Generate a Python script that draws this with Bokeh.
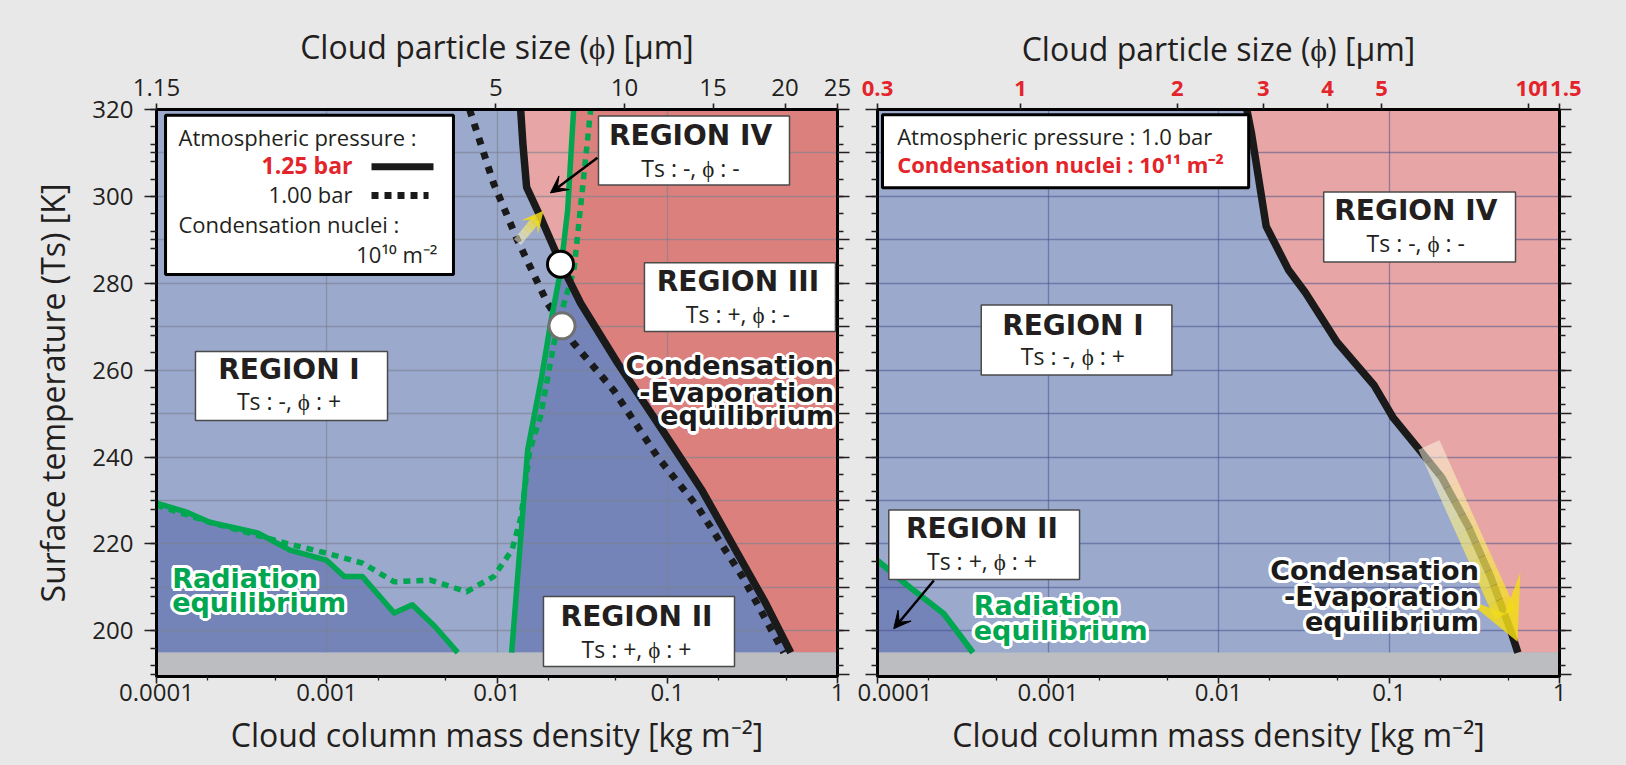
import numpy as np
from bokeh.plotting import figure
from bokeh.layouts import row
from bokeh.models import FixedTicker, LinearAxis, LogAxis, Label, Arrow, VeeHead, Range1d
from bokeh.embed import file_html
from bokeh.resources import INLINE

# ---------------- ticks / labels ----------------
X_TICKS = [1e-4, 1e-3, 1e-2, 1e-1, 1.0]
X_TICK_LABELS = ["0.0001", "0.001", "0.01", "0.1", "1"]
X_MINOR_TICKS = [2e-4, 5e-4, 2e-3, 5e-3, 2e-2, 5e-2, 0.2, 0.5]
X_GRID = [1e-3, 1e-2, 1e-1]
Y_LABEL_TICKS = [200, 220, 240, 260, 280, 300, 320]
Y_TICK_LABELS = ["200", "220", "240", "260", "280", "300", "320"]
Y_TICKS = [190, 200, 210, 220, 230, 240, 250, 260, 270, 280, 290, 300, 310, 320]
Y_MINOR_TICKS = list(range(192, 320, 4))

# particle-size axes (positions expressed on the mass axis)
TOP_L_POS = [1e-4, 0.00986, 0.0561, 0.1858, 0.492, 1.0]
TOP_L_LABELS = ["1.15", "5", "10", "15", "20", "25"]
TOP_R_POS = [1e-4, 6.9e-4, 0.00574, 0.01832, 0.0436, 0.0904, 0.655, 1.0]
TOP_R_LABELS = ["0.3", "1", "2", "3", "4", "5", "10", "11.5"]

X_LABEL = "Cloud column mass density [kg m\u207b\u00b2]"
TOP_LABEL = "Cloud particle size (\u03d5) [\u03bcm]"
Y_LABEL = "Surface temperature (Ts) [K]"

# ---------------- left panel data (nuclei 1e10 m^-2) ----------------
CE125_MASS = [0.01377, 0.0142, 0.01493, 0.01803, 0.02366, 0.0310, 0.0512, 0.0879, 0.1603, 0.378, 0.531]
CE125_TEMP = [320.0, 312.0, 302.1, 295.2, 284.6, 275.4, 261.6, 247.8, 232.3, 206.4, 195.0]
CE100_MASS = [0.0069, 0.00955, 0.0132, 0.0198, 0.0282, 0.0484, 0.0879, 0.151, 0.277, 0.483]
CE100_TEMP = [320.0, 303.0, 289.9, 275.4, 266.2, 255.4, 240.0, 228.5, 212.4, 195.0]
RAD125_UP_MASS = [0.01219, 0.01514, 0.01828, 0.02065, 0.02366, 0.0260, 0.0282]
RAD125_UP_TEMP = [195.0, 241.6, 258.4, 270.8, 283.0, 296.8, 320.0]
RAD125_LOW_MASS = [1e-4, 1.486e-4, 2.02e-4, 3.96e-4, 6.08e-4, 9.93e-4, 1.267e-3, 1.62e-3, 2.49e-3, 3.18e-3, 4.32e-3, 5.88e-3]
RAD125_LOW_TEMP = [229.4, 227.4, 225.1, 222.5, 218.6, 216.3, 212.5, 212.5, 204.1, 206.0, 201.0, 195.0]
RAD100_MASS = [1e-4, 1.4e-4, 2.02e-4, 5.73e-4, 9.93e-4, 1.62e-3, 2.49e-3, 4.07e-3, 6.62e-3, 9.55e-3,
               0.01225, 0.01384, 0.0156, 0.0180, 0.0216, 0.0247, 0.0283, 0.0317, 0.0355]
RAD100_TEMP = [228.9, 227.1, 225.1, 220.2, 217.9, 215.6, 211.3, 211.7, 209.0, 212.5,
               218.6, 226.3, 241.6, 249.3, 266.1, 275.3, 283.0, 301.4, 320.0]
CIRCLE_MASS = [0.0236, 0.0241]
CIRCLE_TEMP = [284.4, 270.2]

# ---------------- right panel data (1.0 bar, nuclei 1e11 m^-2) ----------------
CER_MASS = [0.01466, 0.01563, 0.01905, 0.02564, 0.0323, 0.0495, 0.0815, 0.106, 0.1476, 0.204, 0.294, 0.395, 0.516, 0.570]
CER_TEMP = [320.0, 314.4, 293.1, 283.2, 277.9, 266.5, 256.6, 249.0, 242.1, 235.3, 223.8, 212.4, 200.2, 195.0]
RADR_MASS = [1e-4, 1.54e-4, 2.44e-4, 2.98e-4, 3.63e-4]
RADR_TEMP = [216.2, 210.1, 204.0, 199.5, 195.0]

# ---------------- colours ----------------
BG = "#E8E8E8"
LIGHT_BLUE = "#9BA9CD"
DARK_BLUE = "#7484B8"
PINK = "#E7A6A5"
RED = "#DC807E"
GRAY = "#BCBDC1"
GREEN = "#00A650"
INK = "#231F20"
RED_TXT = "#E3242B"
T_MIN, T_MAX, T_FLOOR = 189.5, 320.0, 195.0


def _logx_at(xs, ts, t):
    ts = np.asarray(ts, float)
    lx = np.log10(np.asarray(xs, float))
    o = np.argsort(ts)
    return np.interp(t, ts[o], lx[o])


def curve_part(xs, ts, t_lo, t_hi):
    xs = np.asarray(xs, float)
    ts = np.asarray(ts, float)
    o = np.argsort(ts)
    xs, ts = xs[o], ts[o]
    m = (ts > t_lo) & (ts < t_hi)
    px = [10 ** _logx_at(xs, ts, t_lo)] + list(xs[m]) + [10 ** _logx_at(xs, ts, t_hi)]
    pt = [t_lo] + list(ts[m]) + [t_hi]
    return px, pt


def style_axis(ax, tick_out, minor_out, size=24, color=INK, bold=False, standoff=0):
    ax.axis_line_color = "black"
    ax.axis_line_width = 3
    ax.major_tick_line_color = INK
    ax.major_tick_line_width = 1.6
    ax.minor_tick_line_color = INK
    ax.minor_tick_line_width = 1.3
    ax.major_tick_out = tick_out
    ax.major_tick_in = 0
    ax.minor_tick_out = minor_out
    ax.minor_tick_in = 0
    ax.major_label_text_font = "Open Sans"
    ax.major_label_text_font_size = f"{size}px"
    ax.major_label_text_color = color
    ax.major_label_text_font_style = "bold" if bold else "normal"
    ax.major_label_standoff = standoff
    ax.axis_label_text_font = "Open Sans"
    ax.axis_label_text_font_size = "32px"
    ax.axis_label_text_font_style = "normal"
    ax.axis_label_text_color = INK


def hide_labels(ax):
    ax.major_label_overrides = {t: "" for t in Y_TICKS}
    ax.major_label_text_color = None
    ax.major_label_text_font_size = "0px"
    ax.major_label_standoff = 0


def make_panel(width, b_left, b_right, top_pos, top_labels, top_red, grid_color, grid_alpha, y_labels):
    p = figure(width=width, height=765, x_axis_type="log",
               x_range=Range1d(1e-4, 1.0), y_range=Range1d(T_MIN, T_MAX),
               output_backend="svg", toolbar_location=None, tools="",
               min_border_left=b_left, min_border_right=b_right,
               min_border_top=109, min_border_bottom=89)
    p.background_fill_color = LIGHT_BLUE
    p.border_fill_color = BG
    p.outline_line_color = "black"
    p.outline_line_width = 3

    xa = p.xaxis[0]
    xa.ticker = FixedTicker(ticks=X_TICKS, minor_ticks=X_MINOR_TICKS)
    xa.major_label_overrides = dict(zip(X_TICKS, X_TICK_LABELS))
    style_axis(xa, 7, 4, standoff=0)
    xa.axis_label = X_LABEL
    xa.axis_label_standoff = 9

    ya = p.yaxis[0]
    if y_labels:
        ya.ticker = FixedTicker(ticks=Y_LABEL_TICKS,
                                minor_ticks=sorted(set(Y_MINOR_TICKS) | set(Y_TICKS)))
        ya.major_label_overrides = dict(zip(Y_LABEL_TICKS, Y_TICK_LABELS))
        style_axis(ya, 12, 6, standoff=11)
        ya.axis_label = Y_LABEL
        ya.axis_label_standoff = 15
    else:
        ya.ticker = FixedTicker(ticks=Y_TICKS, minor_ticks=Y_MINOR_TICKS)
        style_axis(ya, 12, 6, standoff=0)
        hide_labels(ya)

    top = LogAxis(ticker=FixedTicker(ticks=top_pos, minor_ticks=[]))
    top.major_label_overrides = dict(zip(top_pos, top_labels))
    if top_red:
        style_axis(top, 6, 0, size=22, color=RED_TXT, bold=True, standoff=8)
    else:
        style_axis(top, 6, 0, size=24, standoff=8)
    top.axis_label = TOP_LABEL
    top.axis_label_standoff = 8
    p.add_layout(top, "above")

    ra = LinearAxis(ticker=FixedTicker(ticks=Y_TICKS, minor_ticks=Y_MINOR_TICKS))
    style_axis(ra, 12, 6, standoff=0)
    hide_labels(ra)
    p.add_layout(ra, "right")

    p.xgrid.ticker = FixedTicker(ticks=X_GRID)
    p.ygrid.ticker = FixedTicker(ticks=Y_TICKS)
    p.grid.grid_line_color = grid_color
    p.grid.grid_line_alpha = grid_alpha
    p.grid.grid_line_width = 1.3
    return p


def fill(p, xs, ts, color):
    r = p.patch(xs, ts, fill_color=color, line_color=None)
    r.level = "image"


def box(p, l, r, b, t, heavy=False):
    p.quad(left=[l], right=[r], bottom=[b], top=[t], fill_color="white",
           line_color="black" if heavy else "#4A4A4A", line_width=3 if heavy else 1.5)


def text(p, x, y, s, size, color=INK, font="Open Sans", style="normal", align="center"):
    p.add_layout(Label(x=x, y=y, text=s, text_font=font, text_font_size=f"{size}px", text_color=color,
                       text_font_style=style, text_align=align, text_baseline="middle"))


def halo_text(p, x, y, s, size, color, align):
    # white halo behind bold text
    for ang in np.arange(0, 360, 30):
        dx = 3.2 * np.cos(np.radians(ang))
        dy = 3.2 * np.sin(np.radians(ang))
        p.add_layout(Label(x=x, y=y, x_offset=dx, y_offset=dy, text=s, text_font="DejaVu Sans",
                           text_font_size=f"{size}px", text_color="white", text_font_style="bold",
                           text_align=align, text_baseline="middle"))
    text(p, x, y, s, size, color=color, font="DejaVu Sans", style="bold", align=align)


def region(p, xc, y1, y2, name, sub):
    text(p, xc, y1, name, 28, font="DejaVu Sans", style="bold")
    text(p, xc, y2, sub, 23)


def black_arrow(p, x0, y0, x1, y1):
    p.add_layout(Arrow(x_start=x0, y_start=y0, x_end=x1, y_end=y1, line_color="black", line_width=2.5,
                       end=VeeHead(size=17, fill_color="black", line_color="black")))


def yellow_arrow(p, x0, y0, x1, y1, width, head, frac, n=10):
    lx0, lx1 = np.log10(x0), np.log10(x1)
    c0 = np.array([255, 252, 235])
    c1 = np.array([242, 218, 24])
    for k in range(n):
        f0 = frac * k / n
        f1 = frac * (k + 1) / n
        w = (k + 0.5) / n
        c = c0 + (c1 - c0) * w
        col = "#%02x%02x%02x" % tuple(int(v) for v in c)
        p.segment(x0=[10 ** (lx0 + (lx1 - lx0) * f0)], y0=[y0 + (y1 - y0) * f0],
                  x1=[10 ** (lx0 + (lx1 - lx0) * f1)], y1=[y0 + (y1 - y0) * f1],
                  line_color=col, line_alpha=0.5 + 0.35 * w, line_width=width)
    xs = 10 ** (lx0 + (lx1 - lx0) * frac * 0.9)
    ys = y0 + (y1 - y0) * frac * 0.9
    p.add_layout(Arrow(x_start=xs, y_start=ys, x_end=x1, y_end=y1, line_alpha=0, line_width=1,
                       end=VeeHead(size=head, fill_color="#F2DA18", fill_alpha=0.85, line_color=None)))


# ======================= LEFT PANEL =======================
p1 = make_panel(857, 156, 20, TOP_L_POS, TOP_L_LABELS, False, "#7A808C", 0.6, True)

tg = np.linspace(T_FLOOR, T_MAX, 5001)
d = _logx_at(CE125_MASS, CE125_TEMP, tg) - _logx_at(RAD125_UP_MASS, RAD125_UP_TEMP, tg)
i = np.where(np.sign(d[:-1]) != np.sign(d[1:]))[0][0]
T_INT = tg[i] - d[i] * (tg[i + 1] - tg[i]) / (d[i + 1] - d[i])

bxu, btu = curve_part(CE125_MASS, CE125_TEMP, T_INT, T_MAX)
gxu, gtu = curve_part(RAD125_UP_MASS, RAD125_UP_TEMP, T_INT, T_MAX)
bxl, btl = curve_part(CE125_MASS, CE125_TEMP, T_FLOOR, T_INT)
gxl, gtl = curve_part(RAD125_UP_MASS, RAD125_UP_TEMP, T_FLOOR, T_INT)

fill(p1, [1.0, 1.0] + bxl + gxu, [T_MAX, T_FLOOR] + btl + gtu, RED)
fill(p1, bxu + gxu[::-1], btu + gtu[::-1], PINK)
fill(p1, gxl + bxl[::-1], gtl + btl[::-1], DARK_BLUE)
fill(p1, [1e-4] + RAD125_LOW_MASS, [T_FLOOR] + RAD125_LOW_TEMP, DARK_BLUE)

p1.quad(left=[1e-4], right=[1.0], bottom=[T_MIN], top=[T_FLOOR], fill_color=GRAY, line_color=None)

p1.line(RAD100_MASS, RAD100_TEMP, line_color=GREEN, line_width=5.5, line_dash="7 6")
p1.line(CE100_MASS, CE100_TEMP, line_color="#1A1A1A", line_width=7, line_dash="7 8")
p1.line(CE125_MASS, CE125_TEMP, line_color="#1A1A1A", line_width=7.5, line_join="round")
p1.line(RAD125_LOW_MASS, RAD125_LOW_TEMP, line_color=GREEN, line_width=5.5, line_join="round")
p1.line(RAD125_UP_MASS, RAD125_UP_TEMP, line_color=GREEN, line_width=5.5, line_join="round")
p1.scatter(CIRCLE_MASS[:1], CIRCLE_TEMP[:1], size=26, fill_color="white", line_color="black", line_width=3)
p1.scatter(CIRCLE_MASS[1:], CIRCLE_TEMP[1:], size=26, fill_color="white", line_color="#707070", line_width=3)

yellow_arrow(p1, 0.01318, 289.5, 0.01875, 296.7, 9, 22, 0.72, n=6)
black_arrow(p1, 0.0389, 308.9, 0.0206, 300.8)

# legend box
box(p1, 1.13e-4, 0.00555, 282.0, 318.7, heavy=True)
text(p1, 1.346e-4, 313.7, "Atmospheric pressure :", 22, align="left")
text(p1, 0.001416, 307.2, "1.25 bar", 23, color=RED_TXT, style="bold", align="right")
p1.line([0.001832, 0.004236], [306.8, 306.8], line_color="#1A1A1A", line_width=7)
text(p1, 0.001416, 300.5, "1.00 bar", 22, align="right")
p1.line([0.001832, 0.003962], [300.2, 300.2], line_color="#1A1A1A", line_width=7, line_dash="7 6")
text(p1, 1.346e-4, 293.6, "Condensation nuclei :", 22, align="left")
text(p1, 0.004467, 286.7, "10\u00b9\u2070 m\u207b\u00b2", 22, align="right")

# region boxes
box(p1, 0.03945, 0.5224, 302.6, 318.5)
region(p1, 0.137, 314.1, 306.6, "REGION IV", "Ts : -, \u03d5 : -")
box(p1, 0.07345, 0.9727, 268.9, 284.7)
region(p1, 0.26, 280.4, 272.9, "REGION III", "Ts : +, \u03d5 : -")
box(p1, 1.694e-4, 0.002275, 248.4, 264.3)
region(p1, 6.0e-4, 260.1, 253.0, "REGION I", "Ts : -, \u03d5 : +")
box(p1, 0.01875, 0.2483, 191.8, 207.9)
region(p1, 0.066, 203.4, 195.8, "REGION II", "Ts : +, \u03d5 : +")

for yy, s in zip([261.0, 254.9, 249.5], ["Condensation", "-Evaporation", "equilibrium"]):
    halo_text(p1, 0.955, yy, s, 27, "#1A1A1A", "right")
for yy, s in zip([212.1, 206.6], ["Radiation", "equilibrium"]):
    halo_text(p1, 1.236e-4, yy, s, 27, GREEN, "left")

# ======================= RIGHT PANEL =======================
p2 = make_panel(769, 20, 67, TOP_R_POS, TOP_R_LABELS, True, "#3F4C85", 0.5, False)

fill(p2, CER_MASS + [1.0, 1.0], CER_TEMP + [T_FLOOR, T_MAX], PINK)
fill(p2, [1e-4] + RADR_MASS, [T_FLOOR] + RADR_TEMP, DARK_BLUE)
p2.quad(left=[1e-4], right=[1.0], bottom=[T_MIN], top=[T_FLOOR], fill_color=GRAY, line_color=None)
p2.line(CER_MASS, CER_TEMP, line_color="#1A1A1A", line_width=7.5, line_join="round")
p2.line(RADR_MASS, RADR_TEMP, line_color=GREEN, line_width=6, line_join="round")

yellow_arrow(p2, 0.1715, 242.8, 0.5675, 197.5, 23, 62, 0.86, n=12)

box(p2, 1.07e-4, 0.01503, 302.0, 318.8, heavy=True)
text(p2, 1.305e-4, 314.0, "Atmospheric pressure : 1.0 bar", 22, align="left")
text(p2, 1.305e-4, 307.5, "Condensation nuclei  : 10\u00b9\u00b9 m\u207b\u00b2", 22, color=RED_TXT, style="bold", align="left")

box(p2, 0.0414, 0.5521, 284.9, 301.0)
region(p2, 0.1436, 296.7, 289.3, "REGION IV", "Ts : -, \u03d5 : -")
box(p2, 4.06e-4, 0.00533, 258.9, 275.0)
region(p2, 0.0014, 270.4, 263.2, "REGION I", "Ts : -, \u03d5 : +")
box(p2, 1.165e-4, 0.001531, 211.8, 227.8)
region(p2, 4.1e-4, 223.6, 216.0, "REGION II", "Ts : +, \u03d5 : +")
black_arrow(p2, 2.14e-4, 211.6, 1.245e-4, 200.5)

for yy, s in zip([205.9, 200.2], ["Radiation", "equilibrium"]):
    halo_text(p2, 3.67e-4, yy, s, 27, GREEN, "left")
for yy, s in zip([213.9, 207.8, 202.1], ["Condensation", "-Evaporation", "equilibrium"]):
    halo_text(p2, 0.3365, yy, s, 27, "#1A1A1A", "right")

layout = row(p1, p2, styles={"background-color": BG})
open("out.html", "w").write(file_html(layout, INLINE, title="Cloud regions"))
